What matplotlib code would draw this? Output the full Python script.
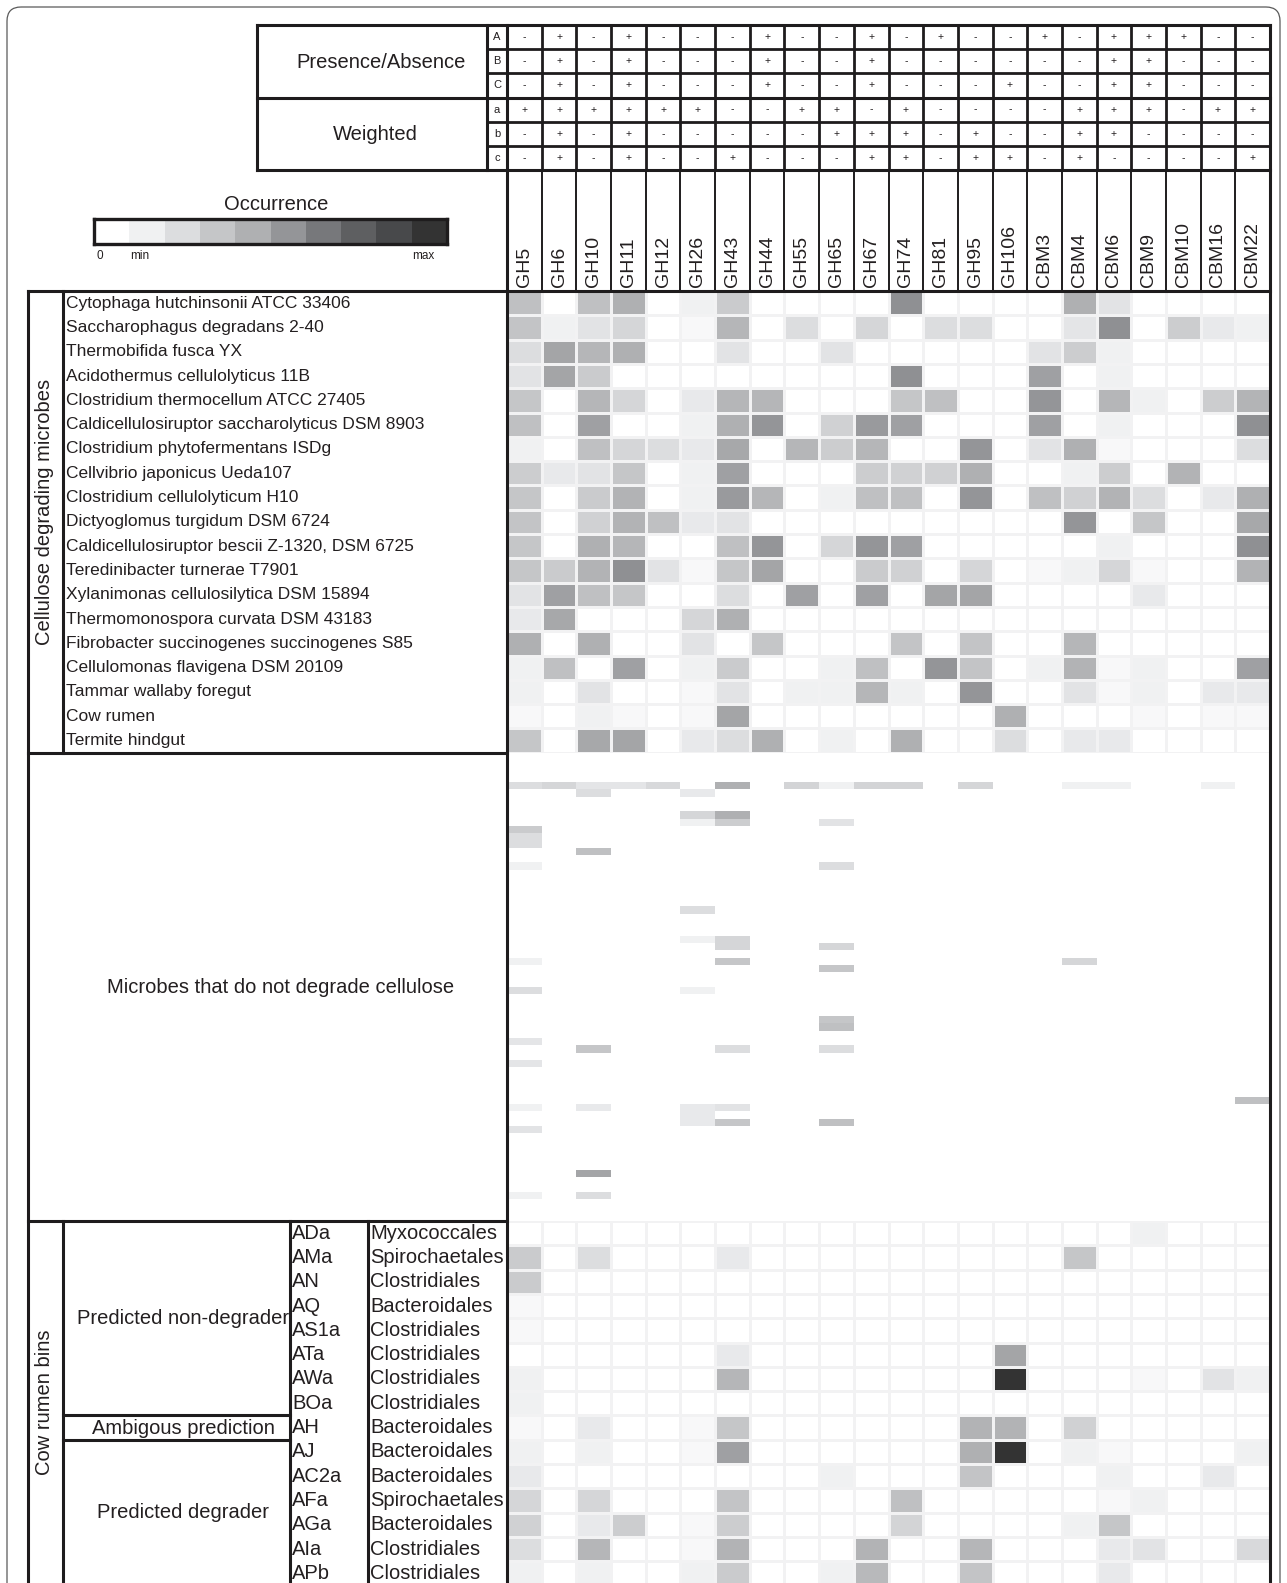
import numpy as np
import matplotlib
matplotlib.use('Agg')
import matplotlib.pyplot as plt
from matplotlib.colors import LinearSegmentedColormap
from matplotlib.patches import FancyBboxPatch

plt.rcParams['font.family'] = ['Liberation Sans', 'DejaVu Sans']

# ---- data ----
families = ['GH5', 'GH6', 'GH10', 'GH11', 'GH12', 'GH26', 'GH43', 'GH44', 'GH55', 'GH65', 'GH67',
            'GH74', 'GH81', 'GH95', 'GH106', 'CBM3', 'CBM4', 'CBM6', 'CBM9', 'CBM10', 'CBM16', 'CBM22']

sign_rows = ['A', 'B', 'C', 'a', 'b', 'c']
signs = ['-+-+---+--+-+--+-+++--',
         '-+-+---+--+------++---',
         '-+-+---+--+---+--++---',
         '++++++--++-+----+++-++',
         '-+-+-----+++-+--++----',
         '-+-+--+---++-++-+----+']

degraders = ['Cytophaga hutchinsonii ATCC 33406',
             'Saccharophagus degradans 2-40',
             'Thermobifida fusca YX',
             'Acidothermus cellulolyticus 11B',
             'Clostridium thermocellum ATCC 27405',
             'Caldicellulosiruptor saccharolyticus DSM 8903',
             'Clostridium phytofermentans ISDg',
             'Cellvibrio japonicus Ueda107',
             'Clostridium cellulolyticum H10',
             'Dictyoglomus turgidum DSM 6724',
             'Caldicellulosiruptor bescii Z-1320, DSM 6725',
             'Teredinibacter turnerae T7901',
             'Xylanimonas cellulosilytica DSM 15894',
             'Thermomonospora curvata DSM 43183',
             'Fibrobacter succinogenes succinogenes S85',
             'Cellulomonas flavigena DSM 20109',
             'Tammar wallaby foregut',
             'Cow rumen',
             'Termite hindgut']

deg_values = np.array([
    [3.3, 0, 3.3, 4, 0, 1, 2.8, 0, 0, 0, 0, 5.2, 0, 0, 0, 0, 4, 1.7, 0, 0, 0, 0],
    [3.1, 1, 1.7, 2.3, 0, 0.5, 3.7, 0, 2, 0, 2.3, 0, 2, 2, 0, 0, 1.6, 5.2, 0, 2.7, 1.4, 1],
    [2, 4.4, 3.7, 4, 0, 0, 1.7, 0, 0, 1.7, 0, 0, 0, 0, 0, 1.7, 2.7, 1, 0, 0, 0, 0],
    [1.7, 4.4, 2.8, 0, 0, 0, 0, 0, 0, 0, 0, 5.2, 0, 0, 0, 4.6, 0, 1, 0, 0, 0, 0],
    [3, 0, 3.7, 2.3, 0, 1.4, 3.7, 3.7, 0, 0, 0, 3, 3.3, 0, 0, 5, 0, 3.7, 1, 0, 2.7, 3.8],
    [3.3, 0, 4.6, 0, 0, 1, 4, 5, 0, 2.5, 4.8, 4.6, 0, 0, 0, 4.6, 0, 1, 0, 0, 0, 5.2],
    [1, 0, 3.3, 2.3, 2, 1.4, 4.3, 0, 3.7, 2.7, 3.7, 0, 0, 5, 0, 1.7, 4, 0.5, 0, 0, 0, 2],
    [2.7, 1.4, 1.7, 3, 0, 1, 4.6, 0, 0, 0, 2.7, 2.5, 2.5, 4, 0, 0, 1, 2.7, 0, 3.9, 0, 0],
    [3, 0, 2.8, 3.9, 0, 1, 4.8, 3.7, 0, 1, 3.3, 3.3, 0, 5, 0, 3.3, 2.5, 3.9, 2, 0, 1.4, 4],
    [3.1, 0, 2.5, 3.9, 3.3, 1.4, 1.7, 0, 0, 0, 0, 0, 0, 0, 0, 0, 5, 0, 3, 0, 0, 4.3],
    [3, 0, 4, 3.7, 0, 0, 3.3, 5, 0, 2.3, 5, 4.6, 0, 0, 0, 0, 0, 1, 0, 0, 0, 5.2],
    [3, 2.8, 3.9, 5.2, 1.7, 0.5, 3, 4.4, 0, 0, 2.8, 2.5, 0, 2.3, 0, 0.5, 1, 2.3, 0.5, 0, 0, 3.9],
    [1.7, 4.6, 3.3, 3, 0, 0, 2, 0, 4.6, 0, 4.6, 0, 4.4, 4.4, 0, 0, 0, 0, 1.4, 0, 0, 0],
    [1.4, 4.3, 0, 0, 0, 2.3, 4, 0, 0, 0, 0, 0, 0, 0, 0, 0, 0, 0, 0, 0, 0, 0],
    [4, 0, 4, 0, 0, 1.7, 0, 3, 0, 0, 0, 3.1, 0, 3.1, 0, 0, 3.7, 0, 0, 0, 0, 0],
    [1, 3.3, 0, 4.6, 0, 1, 2.8, 0, 0, 1, 3.3, 0, 5, 3.1, 0, 1, 3.9, 0.5, 1, 0, 0, 4.6],
    [1, 0, 1.7, 0, 0, 0.5, 1.7, 0, 1, 1, 3.7, 1, 0, 5, 0, 0, 1.7, 0.5, 1, 0, 1.4, 1.4],
    [0.5, 0, 1, 0.5, 0, 0.5, 4.4, 0, 0, 0, 0, 0, 0, 0, 4, 0, 0, 0, 0.5, 0, 0.5, 0.5],
    [3, 0, 4.3, 4.4, 0, 1.4, 2, 4, 0, 1, 0, 4, 0, 0, 2, 0, 1.4, 1.4, 0, 0, 0, 0],
])

# non-degraders: (row, family, value), all other cells are 0
n_nondeg_rows = 64
nondeg_cells = [
    (4, 'GH5', 2), (4, 'GH6', 2.3), (4, 'GH10', 1.6), (4, 'GH11', 1.6), (4, 'GH12', 2.2),
    (4, 'GH43', 4), (4, 'GH55', 2.4), (4, 'GH65', 1), (4, 'GH67', 2.4), (4, 'GH74', 2.4),
    (4, 'GH95', 2.3), (4, 'CBM4', 1), (4, 'CBM6', 1), (4, 'CBM16', 1),
    (5, 'GH10', 2), (5, 'GH26', 1.4),
    (8, 'GH26', 2.3), (8, 'GH43', 4),
    (9, 'GH26', 1), (9, 'GH43', 2.7), (9, 'GH65', 1.7),
    (10, 'GH5', 2.8), (11, 'GH5', 2), (12, 'GH5', 2),
    (13, 'GH10', 3.3),
    (15, 'GH5', 1), (15, 'GH65', 2),
    (21, 'GH26', 2),
    (25, 'GH26', 1), (25, 'GH43', 2.3),
    (26, 'GH43', 2.3), (26, 'GH65', 2.3),
    (28, 'GH5', 1), (28, 'GH43', 3), (28, 'CBM4', 2.3),
    (29, 'GH65', 3),
    (32, 'GH5', 2), (32, 'GH26', 1),
    (36, 'GH65', 3), (37, 'GH65', 3.3),
    (39, 'GH5', 1.6),
    (40, 'GH10', 3), (40, 'GH43', 2), (40, 'GH65', 2),
    (42, 'GH5', 1.6),
    (47, 'CBM22', 3.3),
    (48, 'GH5', 1), (48, 'GH10', 1.4), (48, 'GH26', 1.4), (48, 'GH43', 1.7),
    (49, 'GH26', 1.4),
    (50, 'GH26', 1.4), (50, 'GH43', 3), (50, 'GH65', 3.3),
    (51, 'GH5', 1.7),
    (57, 'GH10', 4.4),
    (60, 'GH5', 1), (60, 'GH10', 2),
]

bins = ['ADa', 'AMa', 'AN', 'AQ', 'AS1a', 'ATa', 'AWa', 'BOa', 'AH', 'AJ', 'AC2a', 'AFa', 'AGa', 'AIa', 'APb']
bin_orders = ['Myxococcales', 'Spirochaetales', 'Clostridiales', 'Bacteroidales', 'Clostridiales',
              'Clostridiales', 'Clostridiales', 'Clostridiales', 'Bacteroidales', 'Bacteroidales',
              'Bacteroidales', 'Spirochaetales', 'Bacteroidales', 'Clostridiales', 'Clostridiales']
bin_values = np.array([
    [0, 0, 0, 0, 0, 0, 0, 0, 0, 0, 0, 0, 0, 0, 0, 0, 0, 0, 1, 0, 0, 0],
    [2.8, 0, 2, 0, 0, 0, 1.4, 0, 0, 0, 0, 0, 0, 0, 0, 0, 3, 0, 0, 0, 0, 0],
    [2.8, 0, 0, 0, 0, 0, 0, 0, 0, 0, 0, 0, 0, 0, 0, 0, 0, 0, 0, 0, 0, 0],
    [0.5, 0, 0, 0, 0, 0, 0, 0, 0, 0, 0, 0, 0, 0, 0, 0, 0, 0, 0, 0, 0, 0],
    [0.5, 0, 0, 0, 0, 0, 0, 0, 0, 0, 0, 0, 0, 0, 0, 0, 0, 0, 0, 0, 0, 0],
    [0, 0, 0, 0, 0, 0, 1.4, 0, 0, 0, 0, 0, 0, 0, 4.4, 0, 0, 0, 0, 0, 0, 0],
    [1, 0, 0, 0, 0, 0, 3.7, 0, 0, 0, 0, 0, 0, 0, 9, 0, 0, 0, 0.5, 0, 1.7, 1],
    [1, 0, 0, 0, 0, 0, 0, 0, 0, 0, 0, 0, 0, 0, 0, 0, 0, 0, 0, 0, 0, 0],
    [0.5, 0, 1.4, 0, 0, 0.5, 3, 0, 0, 0, 0, 0, 0, 3.9, 3.9, 0, 2.5, 0, 0, 0, 0, 0],
    [1, 0, 1, 0, 0, 0.5, 4.6, 0, 0, 0, 0, 0, 0, 4, 9, 0, 1, 0.5, 0, 0, 0, 1],
    [1.4, 0, 0, 0, 0, 0, 0, 0, 0, 1, 0, 0, 0, 3.1, 0, 0, 0, 1, 0, 0, 1.4, 0],
    [2.3, 0, 2.3, 0, 0, 0, 3.1, 0, 0, 0, 0, 3.3, 0, 0, 0, 0, 0, 0.5, 1, 0, 0, 0],
    [2.5, 0, 1.4, 2.7, 0, 0.5, 2.7, 0, 0, 0, 0, 2.4, 0, 0, 0, 0, 1, 3, 0, 0, 0, 0],
    [2, 0, 3.7, 0, 0, 0.5, 3.9, 0, 0, 0, 3.9, 0, 0, 3.7, 0, 0, 0, 1.4, 1.7, 0, 0, 2.2],
    [1, 0, 1, 0, 0, 1, 2.8, 0, 0, 1, 3.6, 0, 0, 3.1, 0, 0, 0, 1.4, 0, 0, 0, 0],
])
bin_groups = ['Predicted non-degrader', 'Ambigous prediction', 'Predicted degrader']

legend_colors = ['#ffffff', '#f0f1f2', '#dcdddf', '#c5c6c8', '#afb0b2',
                 '#949598', '#77787b', '#5f6062', '#48494b', '#333333']

# ---- layout (pixels) ----
W, H = 1287, 1583
X0, X1 = 507, 1270
TT, TB, HB = 25, 170, 291
ROW = 24.3
NON_B = 1221
ncol = len(families)
cw = (X1 - X0) / ncol
DEG_B = HB + len(degraders) * ROW
K = '#1e1c1d'
TXT = '#231f20'
GRID = '#f2f2f3'

fig = plt.figure(figsize=(W / 100, H / 100), dpi=100)
cmap = LinearSegmentedColormap.from_list('occ', legend_colors)


def px_axes(x0, y0, x1, y1):
    ax = fig.add_axes([x0 / W, 1 - y1 / H, (x1 - x0) / W, (y1 - y0) / H])
    ax.set_axis_off()
    return ax


# heatmaps
ax1 = px_axes(X0, HB, X1, DEG_B)
ax1.pcolormesh(deg_values, cmap=cmap, vmin=0, vmax=9, edgecolors=GRID, linewidth=2)
ax1.set_xlim(0, ncol)
ax1.set_ylim(len(degraders), 0)

nondeg = np.zeros((n_nondeg_rows, ncol))
for r, fam, v in nondeg_cells:
    nondeg[r, families.index(fam)] = v
ax2 = px_axes(X0, DEG_B, X1, NON_B)
ax2.pcolormesh(nondeg, cmap=cmap, vmin=0, vmax=9)
ax2.set_xlim(0, ncol)
ax2.set_ylim(n_nondeg_rows, 0)

ax3 = px_axes(X0, NON_B, X1, H)
ax3.pcolormesh(bin_values, cmap=cmap, vmin=0, vmax=9, edgecolors=GRID, linewidth=2)
ax3.set_xlim(0, ncol)
ax3.set_ylim((H - NON_B) / ROW, 0)

# legend bar
axl = px_axes(94, 219, 447, 244)
axl.set_axis_on()
axl.pcolormesh(np.arange(len(legend_colors)).reshape(1, -1), cmap=cmap, vmin=0, vmax=9)
axl.set_xticks([])
axl.set_yticks([])
for s in axl.spines.values():
    s.set_linewidth(2.4)
    s.set_color(K)

# overlay for frame lines and text
ov = fig.add_axes([0, 0, 1, 1])
ov.set_xlim(0, W)
ov.set_ylim(H, 0)
ov.set_axis_off()


def hl(y, x0, x1, lw=2.2):
    ov.plot([x0, x1], [y, y], color=K, lw=lw, solid_capstyle='projecting')


def vl(x, y0, y1, lw=2.2):
    ov.plot([x, x], [y0, y1], color=K, lw=lw, solid_capstyle='projecting')


ov.add_patch(FancyBboxPatch((7, 7), 1273, 1700, boxstyle='round,pad=0,rounding_size=14',
                            fc='none', ec='#5a5a5a', lw=0.9))

# top table
rt = (TB - TT) / len(sign_rows)
for k in range(len(sign_rows) + 1):
    if k % 3 == 0:
        hl(TT + k * rt, 257, X1)
    else:
        hl(TT + k * rt, 487, X1, lw=2.0)
for j in range(ncol + 1):
    vl(X0 + j * cw, TT, TB, lw=2.0)
vl(487, TT, TB)
vl(257, TT, TB)
for i, row in enumerate(signs):
    yc = TT + (i + 0.5) * rt
    ov.text(497, yc, sign_rows[i], ha='center', va='center', fontsize=8, color=TXT)
    for j, ch in enumerate(row):
        ov.text(X0 + (j + 0.5) * cw, yc, ch, ha='center', va='center', fontsize=7.5, color=TXT)
ov.text(381, 62, 'Presence/Absence', ha='center', va='center', fontsize=14.5, color=TXT)
ov.text(375, 134, 'Weighted', ha='center', va='center', fontsize=14.5, color=TXT)

# column headers
for j in range(1, ncol):
    vl(X0 + j * cw, TB, HB, lw=1.4)
for j, fam in enumerate(families):
    ov.text(X0 + (j + 0.5) * cw, 287, fam, rotation=90, ha='center', va='bottom',
            fontsize=14, color=TXT)

# legend text
ov.text(276, 204, 'Occurrence', ha='center', va='center', fontsize=14.5, color=TXT)
ov.text(100, 256, '0', ha='center', va='center', fontsize=8.5, color=TXT)
ov.text(130, 256, 'min', ha='left', va='center', fontsize=8.5, color=TXT)
ov.text(434, 256, 'max', ha='right', va='center', fontsize=8.5, color=TXT)

# frame lines
vl(X0, TT, H + 5)
vl(X1, TT, H + 5)
hl(HB, 28, X1)
vl(28, HB, H + 5)
vl(63, HB, DEG_B)
hl(DEG_B, 28, X0)
hl(NON_B, 28, X0)
vl(63, NON_B, H + 5)
vl(290, NON_B, H + 5)
vl(368, NON_B, H + 5)
hl(NON_B + 8 * ROW, 63, 290)
hl(NON_B + 9 * ROW, 63, 290)

# row labels
for i, name in enumerate(degraders):
    ov.text(66, HB + (i + 0.5) * ROW, name, ha='left', va='center', fontsize=12.5, color=TXT)
ov.text(45, 512, 'Cellulose degrading microbes', rotation=90, ha='center', va='center',
        fontsize=14.5, color=TXT)
ov.text(281, 987, 'Microbes that do not degrade cellulose', ha='center', va='center',
        fontsize=14.5, color=TXT)
ov.text(45, 1402, 'Cow rumen bins', rotation=90, ha='center', va='center',
        fontsize=14.5, color=TXT)
for lab, y in zip(bin_groups, [1318, 1428, 1512]):
    ov.text(183, y, lab, ha='center', va='center', fontsize=14.5, color=TXT)
for i, (b, o) in enumerate(zip(bins, bin_orders)):
    yc = NON_B + (i + 0.5) * ROW
    ov.text(292, yc, b, ha='left', va='center', fontsize=14.5, color=TXT)
    ov.text(370, yc, o, ha='left', va='center', fontsize=14.5, color=TXT)

fig.savefig('out.png', dpi=100)
